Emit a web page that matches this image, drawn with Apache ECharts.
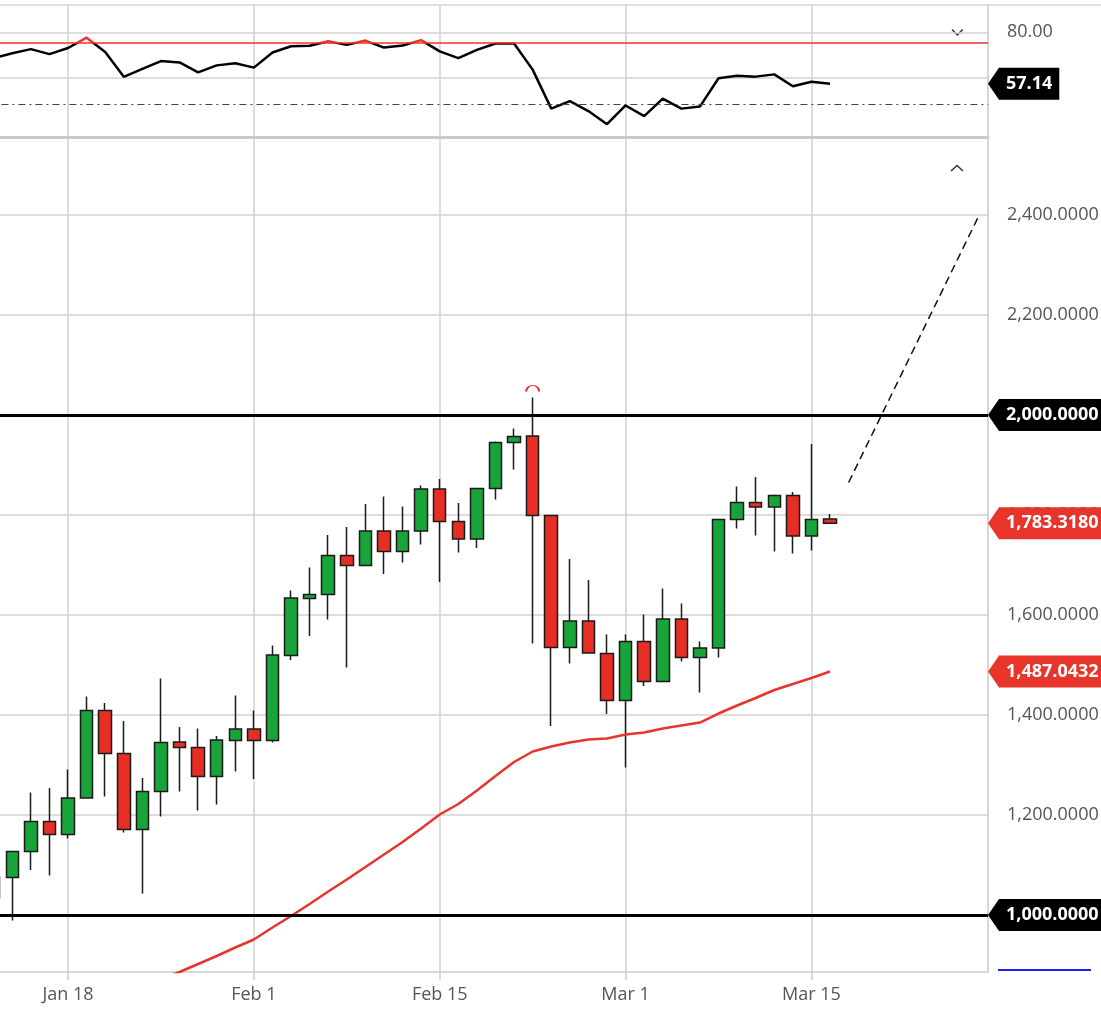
<!DOCTYPE html>
<html>
<head>
<meta charset="utf-8">
<title>Daily candles</title>
<script src="https://cdn.jsdelivr.net/npm/echarts@6.0.0/dist/echarts.min.js"></script>
<style>
html, body { margin: 0; padding: 0; background: #fff; }
#main { width: 1101px; height: 1021px; }
</style>
</head>
<body>
<div id="main"></div>
<script>
// trading days shown on the axis (last 8 are empty space on the right)
var dates = ['Jan 12','Jan 13','Jan 14','Jan 15','Jan 18','Jan 19','Jan 20','Jan 21','Jan 22',
    'Jan 25','Jan 26','Jan 27','Jan 28','Jan 29','Feb 1','Feb 2','Feb 3','Feb 4','Feb 5',
    'Feb 8','Feb 9','Feb 10','Feb 11','Feb 12','Feb 15','Feb 16','Feb 17','Feb 18','Feb 19',
    'Feb 22','Feb 23','Feb 24','Feb 25','Feb 26','Mar 1','Mar 2','Mar 3','Mar 4','Mar 5',
    'Mar 8','Mar 9','Mar 10','Mar 11','Mar 12','Mar 15','Mar 16','Mar 17','Mar 18','Mar 19',
    'Mar 22','Mar 23','Mar 24','Mar 25','Mar 26'];
var tickDates = ['Jan 18','Feb 1','Feb 15','Mar 1','Mar 15'];

// [open, close, low, high]
var ohlc = [
    [1034,1076,1020,1092],[1075,1127,989,1128],[1127,1187,1090,1245],[1187,1161,1079,1254],
    [1161,1234,1153,1291],[1234,1409,1234,1437],[1409,1323,1237,1424],[1323,1171,1165,1388],
    [1171,1247,1043,1274],[1247,1345,1197,1473],[1346,1335,1247,1376],[1335,1277,1209,1373],
    [1277,1350,1221,1358],[1349,1372,1287,1439],[1372,1349,1272,1409],[1349,1520,1345,1539],
    [1519,1634,1510,1649],[1633,1641,1558,1695],[1641,1719,1591,1760],[1719,1699,1495,1776],
    [1699,1768,1699,1822],[1768,1727,1682,1837],[1727,1768,1705,1817],[1768,1852,1741,1859],
    [1852,1787,1666,1872],[1787,1752,1725,1824],[1752,1853,1734,1853],[1853,1945,1831,1947],
    [1945,1957,1891,1973],[1958,1799,1543,2035],[1799,1535,1378,1800],[1535,1588,1503,1712],
    [1588,1524,1524,1670],[1523,1429,1402,1561],[1429,1547,1295,1561],[1547,1467,1458,1601],
    [1467,1592,1467,1653],[1592,1515,1507,1623],[1515,1534,1445,1547],[1534,1791,1515,1791],
    [1791,1825,1773,1857],[1825,1816,1759,1876],[1816,1839,1727,1841],[1839,1758,1723,1846],
    [1758,1791,1729,1942],[1792,1783.318,1783,1802]
];

// moving average (red)
var ma = [null,null,null,null,null,null,null,null,null,872,886,902,918,935,951,975,998,1022,
    1047,1071,1096,1121,1146,1173,1201,1222,1249,1278,1306,1327,1337,1345,1351,1353,1361,
    1365,1373,1379,1385,1403,1419,1434,1450,1462,1474,1487.0432];

// oscillator in the upper pane
var rsi = [68.5,70.7,72.5,70.3,73.0,77.6,71.2,60.2,63.7,67.2,66.6,62.2,65.3,66.2,64.3,71.0,
    73.8,74.0,76.0,74.4,76.3,73.2,74.1,76.5,71.5,68.5,72.2,75.0,75.0,63.4,46.1,49.4,45.0,
    39.2,47.5,42.8,50.5,46.1,47.0,59.6,60.7,60.3,61.3,56.0,58.0,57.14];

var priceTicks = [1000,1200,1400,1600,1800,2000,2200,2400];
var rsiTicks = [60,80];
var priceLevels = [2000,1000];
var rsiUpper = 75.4;
var rsiLower = 48.1;
var projDates = ['Mar 17','Mar 26'];
var projValues = [1865,2398];
var priceTags = [[2000,'#000'],[1783.318,'#e8352b'],[1487.0432,'#e8352b'],[1000,'#000']];
var rsiTags = [[57.14,'#000']];

var GRID = '#d2d2d2';
var RED = '#e8352b';

function fmt4(v){
    return v.toLocaleString('en-US',{minimumFractionDigits:4,maximumFractionDigits:4});
}
function fmt2(v){
    return v.toFixed(2);
}
function isTick(i, v){
    return tickDates.indexOf(v) >= 0;
}

function makeXAxis(gridIndex, bottom){
    return {
        type: 'category',
        gridIndex: gridIndex,
        data: dates,
        boundaryGap: true,
        axisLine: {show: true, lineStyle: {color: '#cacaca', width: bottom ? 1.5 : 3}},
        axisTick: {show: bottom, length: 8, alignWithLabel: true, interval: isTick,
            lineStyle: {color: '#cacaca', width: 1.5}},
        axisLabel: {show: bottom, interval: isTick, color: '#555', fontSize: 18,
            fontFamily: 'Open Sans', margin: 14},
        splitLine: {show: true, interval: isTick, alignWithLabel: true,
            lineStyle: {color: GRID, width: 1.5}}
    };
}

function makeYAxis(gridIndex, min, max, ticks, fmt){
    return {
        type: 'value',
        gridIndex: gridIndex,
        position: 'right',
        min: min,
        max: max,
        axisLine: {show: true, lineStyle: {color: '#cacaca', width: 1.5}},
        axisTick: {show: false, customValues: ticks},
        axisLabel: {customValues: ticks, formatter: fmt, color: '#555', fontSize: 18,
            fontFamily: 'Open Sans', margin: 19},
        splitLine: {show: true, lineStyle: {color: GRID, width: 1.5}}
    };
}

// price tag with an arrow on the right axis
function tagRenderer(tags, fmt){
    return function(params, api){
        var v = api.value(1);
        var y = api.coord([0, v])[1];
        var cs = params.coordSys;
        var x0 = cs.x + cs.width;
        var color = tags[params.dataIndex][1];
        return {
            type: 'group',
            children: [
                {type: 'polygon', shape: {points: [[x0, y], [x0 + 11, y - 16], [x0 + 11.5, y - 16],
                    [x0 + 11.5, y + 16], [x0 + 11, y + 16]]}, style: {fill: color}},
                {type: 'text', x: x0 + 11, y: y, style: {
                    text: fmt(v), fill: '#fff', fontSize: 18, fontWeight: 'bold',
                    fontFamily: 'Open Sans', align: 'left', verticalAlign: 'middle',
                    lineHeight: 22, backgroundColor: color, padding: [5, 7, 5, 7]}}
            ]
        };
    };
}

var myChart = echarts.init(document.getElementById('main'));
var option = {
    animation: false,
    grid: [
        {left: -15.6, right: 113, top: 5, height: 132, containLabel: false, outerBoundsMode: 'none'},
        {left: -15.6, right: 113, top: 139, height: 833, containLabel: false, outerBoundsMode: 'none'}
    ],
    xAxis: [makeXAxis(0, false), makeXAxis(1, true)],
    yAxis: [
        makeYAxis(0, 33.5, 92.1, rsiTicks, fmt2),
        makeYAxis(1, 886, 2552, priceTicks, fmt4)
    ],
    visualMap: {
        show: false,
        seriesIndex: 3,
        dimension: 1,
        pieces: [
            {gte: 0, lte: rsiUpper, color: '#000'},
            {gt: rsiUpper, lte: 100, color: RED}
        ],
        outOfRange: {color: '#000'}
    },
    graphic: [
        {type: 'line', shape: {x1: 0, y1: 5, x2: 1101, y2: 5}, style: {stroke: '#d6d6d6', lineWidth: 1.5}},
        {type: 'polyline', shape: {points: [[952, 29.5], [957.3, 35], [962.7, 29.5]]},
            style: {stroke: '#333', lineWidth: 1.5, fill: null}},
        {type: 'polyline', shape: {points: [[951, 171], [957, 165.5], [963, 171]]},
            style: {stroke: '#333', lineWidth: 1.5, fill: null}},
        {type: 'line', shape: {x1: 998, y1: 970, x2: 1091, y2: 970}, style: {stroke: '#1d1dff', lineWidth: 2}}
    ],
    series: [
        {
            type: 'candlestick',
            xAxisIndex: 1,
            yAxisIndex: 1,
            data: ohlc,
            barWidth: 13,
            itemStyle: {color: '#18a33b', color0: '#e62e24', borderColor: '#1a1a1a',
                borderColor0: '#1a1a1a', borderWidth: 1.5},
            markLine: {
                silent: true,
                symbol: 'none',
                label: {show: false},
                lineStyle: {color: '#000', width: 3, type: 'solid'},
                data: priceLevels.map(function(v){ return {yAxis: v}; })
            },
            markPoint: {
                silent: true,
                data: [{type: 'max', valueDim: 'highest'}],
                symbol: 'path://M0,10A10,10 0 0 1 20,10',
                symbolSize: [13, 6],
                symbolOffset: [0, -9],
                itemStyle: {color: 'none', borderColor: RED, borderWidth: 1.5},
                label: {show: false}
            }
        },
        {
            type: 'line',
            xAxisIndex: 1,
            yAxisIndex: 1,
            data: ma,
            symbol: 'none',
            lineStyle: {color: RED, width: 2.5},
            z: 3
        },
        {
            type: 'line',
            xAxisIndex: 1,
            yAxisIndex: 1,
            data: projDates.map(function(d, i){ return [d, projValues[i]]; }),
            symbol: 'none',
            lineStyle: {color: '#111', width: 1.5, type: [8, 5]}
        },
        {
            type: 'line',
            xAxisIndex: 0,
            yAxisIndex: 0,
            data: rsi.map(function(v, i){ return [dates[i], v]; }),
            symbol: 'none',
            lineStyle: {width: 2.5},
            markLine: {
                silent: true,
                symbol: 'none',
                label: {show: false},
                data: [
                    {yAxis: rsiUpper, lineStyle: {color: RED, width: 1.5, type: 'solid'}},
                    {yAxis: rsiLower, lineStyle: {color: '#444', width: 1.2, type: [7, 4, 2, 4]}}
                ]
            }
        },
        {
            type: 'custom',
            xAxisIndex: 1,
            yAxisIndex: 1,
            clip: false,
            silent: true,
            z: 10,
            encode: {x: 0, y: 1},
            data: priceTags.map(function(t){ return [0, t[0]]; }),
            renderItem: tagRenderer(priceTags, fmt4)
        },
        {
            type: 'custom',
            xAxisIndex: 0,
            yAxisIndex: 0,
            clip: false,
            silent: true,
            z: 10,
            encode: {x: 0, y: 1},
            data: rsiTags.map(function(t){ return [0, t[0]]; }),
            renderItem: tagRenderer(rsiTags, fmt2)
        }
    ]
};
myChart.setOption(option);
</script>
</body>
</html>
